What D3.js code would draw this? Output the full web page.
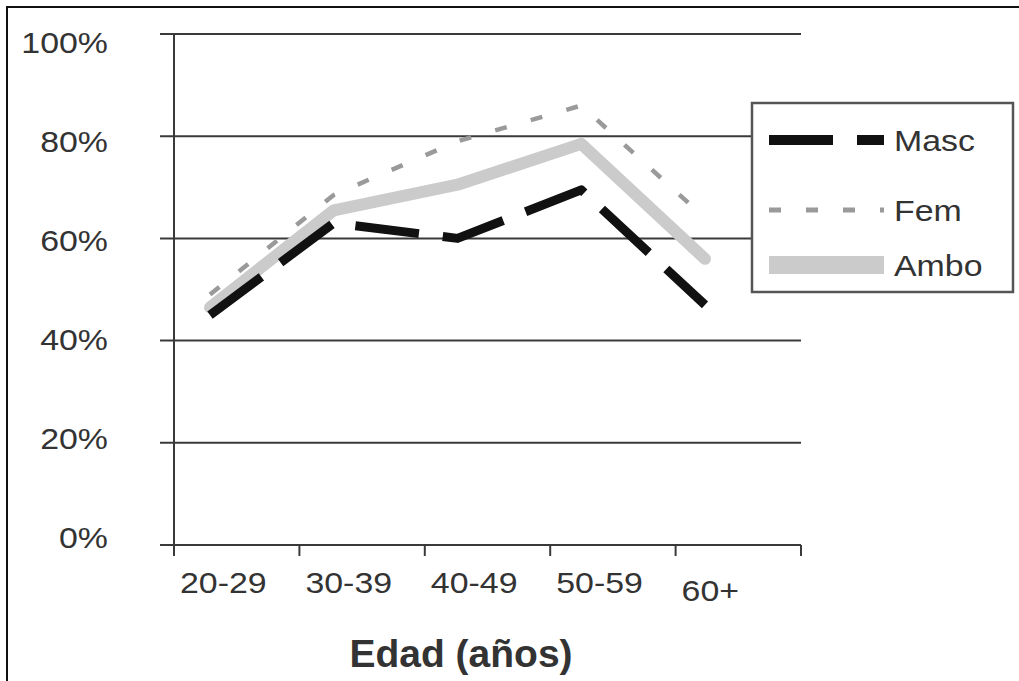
<!DOCTYPE html>
<html>
<head>
<meta charset="utf-8">
<script src="https://cdn.jsdelivr.net/npm/d3@7"></script>
<style>
  body { margin: 0; background: #fff; }
  text { font-family: 'Liberation Sans', Arial, sans-serif; }
</style>
</head>
<body>
<script>
// Constants
const width = 1019;
const height = 681;
const stretch = 1.13; // scanned text is a bit wider than Arial

const categories = ['20-29', '30-39', '40-49', '50-59', '60+'];
const masc = [45, 63, 60, 69.5, 47];
const fem = [49, 68.5, 79, 86, 64];
const ambo = [46.5, 65.5, 70.5, 78.5, 56];
const yTicks = [0, 20, 40, 60, 80, 100];
const seriesNames = ['Masc', 'Fem', 'Ambo'];
const xAxisLabel = 'Edad (años)';

const svg = d3.select('body')
  .append('svg')
  .attr('width', width)
  .attr('height', height);

// outer frame (right/bottom edges fall outside the picture)
svg.append('rect')
  .attr('x', 7)
  .attr('y', 7)
  .attr('width', 1100)
  .attr('height', 800)
  .attr('fill', 'none')
  .attr('stroke', '#111')
  .attr('stroke-width', 2);

// Scales
const yScale = d3.scaleLinear().domain([0, 100]).range([545, 34]);
const yLabelScale = d3.scaleLinear().domain([0, 100]).range([537, 42]);
const xBand = d3.scaleBand().domain(categories).range([174, 801]);
const xPoint = d3.scalePoint().domain(categories).range([210, 705]);

// gridlines
svg.append('g')
  .selectAll('line')
  .data(yTicks.filter((d) => d > 0))
  .join('line')
  .attr('x1', 160)
  .attr('x2', 801)
  .attr('y1', (d) => yScale(d))
  .attr('y2', (d) => yScale(d))
  .attr('stroke', '#3a3a3a')
  .attr('stroke-width', 2);

// y axis line
svg.append('line')
  .attr('x1', 174).attr('x2', 174)
  .attr('y1', yScale(100)).attr('y2', 556)
  .attr('stroke', '#3a3a3a')
  .attr('stroke-width', 2);

// x axis line
svg.append('line')
  .attr('x1', 160).attr('x2', 801)
  .attr('y1', yScale(0)).attr('y2', yScale(0))
  .attr('stroke', '#3a3a3a')
  .attr('stroke-width', 2);

// x ticks at band edges
const tickPos = categories.map((c) => xBand(c)).concat([xBand.range()[1]]);
svg.append('g')
  .selectAll('line')
  .data(tickPos)
  .join('line')
  .attr('x1', (d) => d)
  .attr('x2', (d) => d)
  .attr('y1', yScale(0))
  .attr('y2', 556)
  .attr('stroke', '#3a3a3a')
  .attr('stroke-width', 2);

// y labels
svg.append('g')
  .selectAll('text')
  .data(yTicks)
  .join('text')
  .attr('transform', (d) => `translate(108,${yLabelScale(d)}) scale(${stretch},1)`)
  .attr('dy', '0.36em')
  .attr('text-anchor', 'end')
  .attr('font-size', '30px')
  .attr('fill', '#333')
  .text((d) => `${d}%`);

// x labels
svg.append('g')
  .selectAll('text')
  .data(categories)
  .join('text')
  .attr('transform', (d, i) => `translate(${xBand(d) + 6},${i === 4 ? 601 : 593}) scale(${stretch},1)`)
  .attr('font-size', '30px')
  .attr('fill', '#333')
  .text((d) => d);

svg.append('text')
  .attr('x', 461)
  .attr('y', 667)
  .attr('text-anchor', 'middle')
  .attr('font-size', '39px')
  .attr('font-weight', 'bold')
  .attr('fill', '#333')
  .text(xAxisLabel);

// Lines
const line = d3.line()
  .x((d, i) => xPoint(categories[i]))
  .y((d) => yScale(d));

const styles = [
  { data: masc, color: '#111', w: 9, dash: '64,24', cap: 'butt' },
  { data: fem, color: '#9a9a9a', w: 4.5, dash: '12,25', cap: 'butt' },
  { data: ambo, color: '#cbcbcb', w: 12, dash: null, cap: 'round' }
];

// draw order: Fem, Ambo, Masc on top
[1, 2, 0].forEach((k) => {
  const s = styles[k];
  svg.append('path')
    .datum(s.data)
    .attr('d', line)
    .attr('fill', 'none')
    .attr('stroke', s.color)
    .attr('stroke-width', s.w)
    .attr('stroke-dasharray', s.dash)
    .attr('stroke-linecap', s.cap)
    .attr('stroke-linejoin', 'round');
});

// Legend
const legend = svg.append('g')
  .attr('transform', 'translate(752,103)');

legend.append('rect')
  .attr('width', 261)
  .attr('height', 189)
  .attr('fill', '#fff')
  .attr('stroke', '#555')
  .attr('stroke-width', 2.5);

const legendY = [37, 107, 162];
const legendW = [10, 5, 18];
seriesNames.forEach((name, k) => {
  const s = styles[k];
  legend.append('line')
    .attr('x1', 17)
    .attr('x2', 132)
    .attr('y1', legendY[k])
    .attr('y2', legendY[k])
    .attr('stroke', s.color)
    .attr('stroke-width', legendW[k])
    .attr('stroke-dasharray', s.dash);
  legend.append('text')
    .attr('transform', `translate(142,${legendY[k]}) scale(${stretch},1)`)
    .attr('dy', '0.36em')
    .attr('font-size', '30px')
    .attr('fill', '#333')
    .text(name);
});
</script>
</body>
</html>
